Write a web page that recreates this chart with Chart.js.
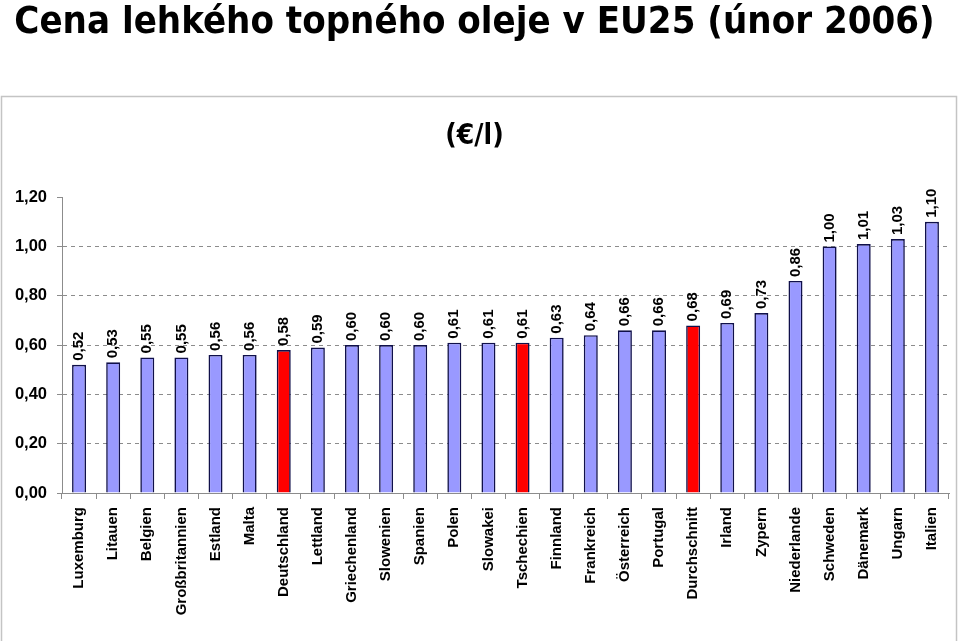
<!DOCTYPE html>
<html>
<head>
<meta charset="utf-8">
<title>Cena lehkého topného oleje v EU25</title>
<script src="https://cdn.jsdelivr.net/npm/chart.js@4.4.1/dist/chart.umd.min.js"></script>
<style>
    html, body { margin: 0; padding: 0; background: #fff; }
    #wrap { width: 959px; height: 641px; position: relative; }
</style>
</head>
<body>
<div id="wrap"><canvas id="chart" width="959" height="641"></canvas></div>
<script>
// Data
const countries = [
    'Luxemburg', 'Litauen', 'Belgien', 'Großbritannien', 'Estland', 'Malta',
    'Deutschland', 'Lettland', 'Griechenland', 'Slowenien', 'Spanien', 'Polen',
    'Slowakei', 'Tschechien', 'Finnland', 'Frankreich', 'Österreich', 'Portugal',
    'Durchschnitt', 'Irland', 'Zypern', 'Niederlande', 'Schweden', 'Dänemark',
    'Ungarn', 'Italien'
];
const prices = [
    0.52, 0.53, 0.55, 0.55, 0.56, 0.56,
    0.58, 0.59, 0.60, 0.60, 0.60, 0.61,
    0.61, 0.61, 0.63, 0.64, 0.66, 0.66,
    0.68, 0.69, 0.73, 0.86, 1.00, 1.01,
    1.03, 1.10
];
const highlighted = ['Deutschland', 'Tschechien', 'Durchschnitt'];
const yTicks = [0, 0.2, 0.4, 0.6, 0.8, 1.0, 1.2];

const BAR_COLOR = '#9999FF';
const HIGHLIGHT_COLOR = '#FF0000';
const AXIS_FONT = '"Liberation Sans", Arial, sans-serif';
const TITLE_FONT = '"DejaVu Sans Condensed", "DejaVu Sans", sans-serif';

const fmt = v => v.toFixed(2).replace('.', ',');

// light frame around the plot (title sits above it)
const framePlugin = {
    id: 'frame',
    beforeDraw(chart) {
        const ctx = chart.ctx;
        ctx.save();
        ctx.strokeStyle = '#c4c4c4';
        ctx.lineWidth = 1.5;
        ctx.strokeRect(1.5, 96.5, 955, 600);
        ctx.restore();
    }
};

// vertical value labels above each bar
const valueLabelPlugin = {
    id: 'valueLabels',
    afterDatasetsDraw(chart) {
        const ctx = chart.ctx;
        const meta = chart.getDatasetMeta(0);
        ctx.save();
        ctx.font = 'bold 15px ' + AXIS_FONT;
        ctx.fillStyle = '#000';
        ctx.textAlign = 'left';
        ctx.textBaseline = 'middle';
        meta.data.forEach((bar, i) => {
            ctx.save();
            ctx.translate(bar.x, bar.y - 4);
            ctx.rotate(-Math.PI / 2);
            ctx.fillText(fmt(prices[i]), 0, 0);
            ctx.restore();
        });
        ctx.restore();
    }
};

new Chart(document.getElementById('chart'), {
    type: 'bar',
    data: {
        labels: countries,
        datasets: [{
            data: prices,
            backgroundColor: countries.map(c => highlighted.includes(c) ? HIGHLIGHT_COLOR : BAR_COLOR),
            borderColor: '#10104a',
            borderWidth: 1.6,
            borderSkipped: 'start',
            categoryPercentage: 1,
            barPercentage: 0.41
        }]
    },
    options: {
        responsive: false,
        animation: false,
        events: [],
        layout: { padding: { left: 0, right: 10, top: 0, bottom: 0 } },
        plugins: {
            legend: { display: false },
            tooltip: { enabled: false },
            title: {
                display: true,
                text: 'Cena lehkého topného oleje v EU25 (únor 2006)',
                color: '#000',
                font: { family: TITLE_FONT, size: 38, weight: 'bold', lineHeight: 1.2 },
                padding: { top: 0, bottom: 74 }
            },
            subtitle: {
                display: true,
                text: '(€/l)',
                color: '#000',
                font: { family: TITLE_FONT, size: 28, weight: 'bold', lineHeight: 1.2 },
                padding: { top: 0, bottom: 44 }
            }
        },
        scales: {
            x: {
                offset: true,
                afterFit: s => { s.height = 148; },
                grid: {
                    offset: true,
                    drawOnChartArea: false,
                    tickLength: 6,
                    tickColor: '#8c8c8c'
                },
                border: { color: '#8c8c8c', width: 1 },
                ticks: {
                    autoSkip: false,
                    minRotation: 90,
                    maxRotation: 90,
                    padding: 8,
                    color: '#000',
                    font: { family: AXIS_FONT, size: 15, weight: 'bold' }
                }
            },
            y: {
                min: 0,
                max: 1.2,
                afterFit: s => { s.width = 62; },
                afterBuildTicks: s => { s.ticks = yTicks.map(v => ({ value: v })); },
                grid: {
                    color: ctx => (ctx.tick && ctx.tick.value > 0 && ctx.tick.value < 1.2) ? '#8c8c8c' : 'rgba(0,0,0,0)',
                    tickColor: '#8c8c8c',
                    tickLength: 5,
                    tickBorderDash: []
                },
                border: { color: '#8c8c8c', width: 1, dash: [4, 4] },
                ticks: {
                    padding: 10,
                    color: '#000',
                    font: { family: AXIS_FONT, size: 16.5, weight: 'bold' },
                    callback: v => fmt(v)
                }
            }
        }
    },
    plugins: [framePlugin, valueLabelPlugin]
});
</script>
</body>
</html>
